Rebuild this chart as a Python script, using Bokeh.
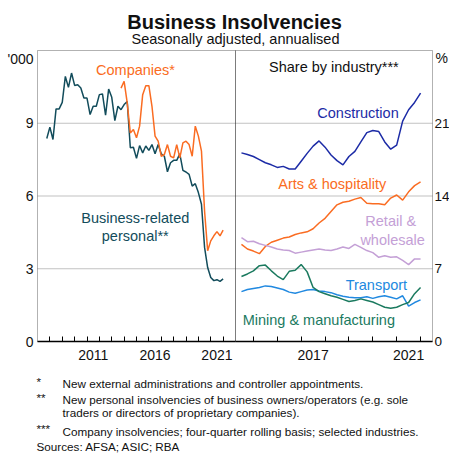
from bokeh.plotting import figure
from bokeh.models import Range1d, LinearAxis, FixedTicker, Label, BoxAnnotation
from bokeh.embed import file_html
from bokeh.resources import INLINE

# ---------------- data ----------------
# Left panel: '000, quarterly
left_start = 2007.75
personal = [8.37, 8.84, 8.33, 9.59, 9.59, 9.86, 10.93, 10.48, 11.07, 10.56,
            10.59, 10.45, 10.04, 10.04, 9.36, 9.70, 9.70, 10.18, 10.21, 9.33,
            10.41, 10.07, 9.11, 9.70, 9.56, 9.77, 9.90, 7.99, 8.01, 7.55,
            8.08, 7.78, 8.06, 7.88, 8.12, 7.74, 8.12, 7.74, 7.64, 7.00,
            7.37, 7.47, 7.47, 7.74, 7.06, 6.99, 6.89, 6.41, 6.51, 6.14,
            5.66, 3.88, 3.05, 2.64, 2.51, 2.55, 2.48, 2.58]
companies = [10.45, 10.73, 9.84, 8.60, 8.74, 8.40, 8.88, 10.18, 10.55, 10.55,
             9.70, 8.47, 8.26, 7.64, 7.71, 8.12, 7.64, 7.57, 8.12, 7.57,
             8.19, 8.26, 8.12, 7.64, 8.88, 8.47, 7.85, 5.38, 3.74, 4.15,
             4.36, 4.53, 4.36, 4.59]
left_dates = [left_start + 0.25 * i for i in range(len(personal))]
comp_dates = left_dates[len(personal) - len(companies):]

# Right panel: share by industry, %, quarterly
right_start = 2014.5
construction = [18.15, 18.0, 17.8, 17.5, 17.2, 17.0, 16.75, 16.85, 16.6, 16.6,
                17.35, 18.1, 18.8, 19.3, 18.7, 17.95, 17.4, 17.0, 17.8, 18.3,
                19.2, 20.1, 20.3, 20.2, 19.2, 18.5, 18.9, 21.2, 22.3, 23.0, 23.9]
arts = [9.35, 8.9, 8.7, 8.45, 9.15, 9.55, 9.75, 9.95, 10.05, 10.3,
        10.45, 10.55, 10.85, 11.4, 11.85, 12.5, 13.15, 13.4, 13.5, 13.7,
        13.85, 13.3, 13.25, 13.25, 13.15, 13.8, 14.1, 13.6, 14.4, 15.0, 15.35]
retail = [10.0, 9.6, 9.65, 9.4, 9.25, 9.1, 8.9, 8.8, 8.75, 8.5,
          8.6, 8.7, 8.8, 8.9, 8.8, 8.75, 8.9, 9.1, 8.95, 9.35,
          9.05, 8.75, 8.55, 8.1, 8.25, 8.1, 8.15, 7.8, 7.4, 7.95, 7.95]
transport = [4.8, 5.0, 5.1, 5.2, 5.35, 5.3, 5.15, 5.0, 4.75, 4.65,
             4.8, 4.95, 5.0, 4.85, 4.8, 4.7, 4.5, 4.35, 4.25, 4.2,
             4.2, 4.3, 4.15, 4.3, 4.4, 4.25, 4.1, 4.4, 3.4, 3.75, 4.0]
mining = [6.25, 6.5, 6.8, 7.3, 7.35, 6.8, 6.3, 5.95, 6.75, 6.85,
          7.4, 6.7, 5.2, 4.8, 4.6, 4.4, 4.25, 4.05, 3.85, 3.95,
          4.1, 3.95, 3.8, 3.55, 3.3, 3.2, 3.3, 3.55, 3.75, 4.6, 5.2]
right_dates = [right_start + 0.25 * i for i in range(len(construction))]

left_tick_years = [2011, 2016, 2021]
right_tick_years = [2017, 2021]
left_y_ticks = [0, 3, 6, 9]
right_y_ticks = [0, 7, 14, 21]
left_grid = [3, 6, 9]
right_grid = [7, 14, 21]

# ---------------- style / layout ----------------
FONT = "Liberation Sans"
C_PERS = "#124c5b"
C_ORANGE = "#fa6c22"
C_CONS = "#1c2ba6"
C_RET = "#c4a0d6"
C_TRANS = "#2189e0"
C_MIN = "#1b7a5f"
C_TEXT = "#111111"
C_GRID = "#c2c2c2"

W, H = 449, 453
PX_L, PX_M, PX_R = 37, 235, 432     # panel edges (px)
PY_T, PY_B = 50, 341                # panel top / bottom (px)

L0, L1, LTOP = 2007.0, 2023.0, 12.0
R0, R1, RTOP = 2014.25, 2022.5, 28.0

kxL = (PX_M - PX_L) / (L1 - L0)
kxR = (PX_R - PX_M) / (R1 - R0)
kyL = (PY_B - PY_T) / LTOP
kyR = (PY_B - PY_T) / RTOP

x_main = Range1d(L0 - PX_L / kxL, L0 + (W - PX_L) / kxL)
x_r = Range1d(R0 - PX_M / kxR, R0 + (W - PX_M) / kxR)
y_main = Range1d(-(H - PY_B) / kyL, LTOP + PY_T / kyL)
y_pct = Range1d(-(H - PY_B) / kyR, RTOP + PY_T / kyR)

p = figure(width=W, height=H, x_range=x_main, y_range=y_main,
           output_backend="svg", toolbar_location=None,
           x_axis_type=None, y_axis_type=None,
           min_border=0, min_border_left=0, min_border_right=0,
           min_border_top=0, min_border_bottom=0)
p.extra_x_ranges = {"r": x_r}
p.extra_y_ranges = {"pct": y_pct}
p.outline_line_color = None
p.background_fill_color = "white"
p.border_fill_color = "white"
p.xgrid.visible = False
p.ygrid.visible = False

# grid lines
p.segment(x0=[L0] * len(left_grid), x1=[L1] * len(left_grid), y0=left_grid, y1=left_grid,
          line_color=C_GRID, line_width=1.2)
p.segment(x0=[R0] * len(right_grid), x1=[R1] * len(right_grid), y0=right_grid, y1=right_grid,
          line_color=C_GRID, line_width=1.2, x_range_name="r", y_range_name="pct")

# lines
LW = 1.5
p.line(left_dates, personal, line_color=C_PERS, line_width=LW)
p.line(comp_dates, companies, line_color=C_ORANGE, line_width=LW)
for ser, col in ((construction, C_CONS), (arts, C_ORANGE), (retail, C_RET),
                 (transport, C_TRANS), (mining, C_MIN)):
    p.line(right_dates, ser, line_color=col, line_width=LW,
           x_range_name="r", y_range_name="pct")

# panel frames
p.add_layout(BoxAnnotation(left=L0, right=L1, bottom=0, top=LTOP,
                           fill_color=None, line_color="black", line_width=1))
p.add_layout(BoxAnnotation(left=R0, right=R1, bottom=0, top=RTOP,
                           x_range_name="r", y_range_name="pct",
                           fill_color=None, line_color="black", line_width=1))


def style_axis(ax, size="14px"):
    ax.major_label_text_font = FONT
    ax.major_label_text_font_size = size
    ax.major_label_text_color = C_TEXT
    ax.major_tick_in = 0
    ax.major_tick_out = 0


# y axes
ax_l = LinearAxis(ticker=FixedTicker(ticks=left_y_ticks), fixed_location=L0)
style_axis(ax_l)
ax_l.axis_line_color = None
ax_l.minor_tick_in = 0
ax_l.minor_tick_out = 0
ax_l.major_label_standoff = 4
p.add_layout(ax_l, "left")

ax_r = LinearAxis(ticker=FixedTicker(ticks=right_y_ticks), fixed_location=R1,
                  x_range_name="r", y_range_name="pct")
style_axis(ax_r, "13.5px")
ax_r.axis_line_color = None
ax_r.minor_tick_in = 0
ax_r.minor_tick_out = 0
ax_r.major_label_standoff = 2
p.add_layout(ax_r, "right")

# x axes (labels centred in each year, ticks at year boundaries)
for (yrs, a, b, rng) in ((left_tick_years, L0, L1, "default"), (right_tick_years, R0, R1, "r")):
    majors = [y + 0.5 for y in yrs]
    minors = [float(y) for y in range(int(a) + 1, int(b) + 1) if a < y < b]
    ax = LinearAxis(ticker=FixedTicker(ticks=majors, minor_ticks=minors),
                    major_label_overrides={m: str(y) for m, y in zip(majors, yrs)},
                    fixed_location=0, bounds=(a, b), x_range_name=rng)
    style_axis(ax)
    ax.axis_line_color = "black"
    ax.axis_line_width = 1.5
    ax.minor_tick_in = 5
    ax.minor_tick_out = 0
    ax.minor_tick_line_color = "black"
    ax.major_label_standoff = 8
    p.add_layout(ax, "below")


def dlabel(x, y, text, color, rng=None):
    kw = dict(x=x, y=y, text=text, text_align="center", text_baseline="middle",
              text_font=FONT, text_font_size="14.5px", text_color=color)
    if rng:
        kw.update(x_range_name="r", y_range_name="pct")
    p.add_layout(Label(**kw))


dlabel(2014.92, 11.19, "Companies*", C_ORANGE)
dlabel(2014.9, 5.09, "Business-related", C_PERS)
dlabel(2014.9, 4.37, "personal**", C_PERS)
dlabel(2018.37, 26.46, "Share by industry***", C_TEXT, True)
dlabel(2019.38, 21.99, "Construction", C_CONS, True)
dlabel(2018.3, 15.2, "Arts & hospitality", C_ORANGE, True)
dlabel(2020.75, 11.55, "Retail &", C_RET, True)
dlabel(2020.83, 9.77, "wholesale", C_RET, True)
dlabel(2020.15, 5.48, "Transport", C_TRANS, True)
dlabel(2017.74, 2.07, "Mining & manufacturing", C_MIN, True)


def slabel(sx, sy, text, size="11.7px", align="left", style="normal", color=C_TEXT):
    # page pixel position of the text baseline
    p.add_layout(Label(x=sx, y=H - sy, x_units="screen", y_units="screen",
                       text=text, text_align=align, text_baseline="alphabetic",
                       text_font=FONT, text_font_size=size, text_font_style=style,
                       text_color=color))


slabel(234, 21, "Business Insolvencies", size="20px", align="center", style="bold")
slabel(235, 38.8, "Seasonally adjusted, annualised", size="14.5px", align="center")
slabel(33, 58, "'000", size="14px", align="right")
slabel(435, 57.5, "%", size="14px", align="left")

slabel(36, 381, "*")
slabel(62, 383, "New external administrations and controller appointments.")
slabel(36, 397, "**")
slabel(62, 398.7, "New personal insolvencies of business owners/operators (e.g. sole")
slabel(62, 411.5, "traders or directors of proprietary companies).")
slabel(36, 428, "***")
slabel(62, 430.7, "Company insolvencies; four-quarter rolling basis; selected industries.")
slabel(36, 445.5, "Sources: AFSA; ASIC; RBA")

open("out.html", "w").write(file_html(p, INLINE))
